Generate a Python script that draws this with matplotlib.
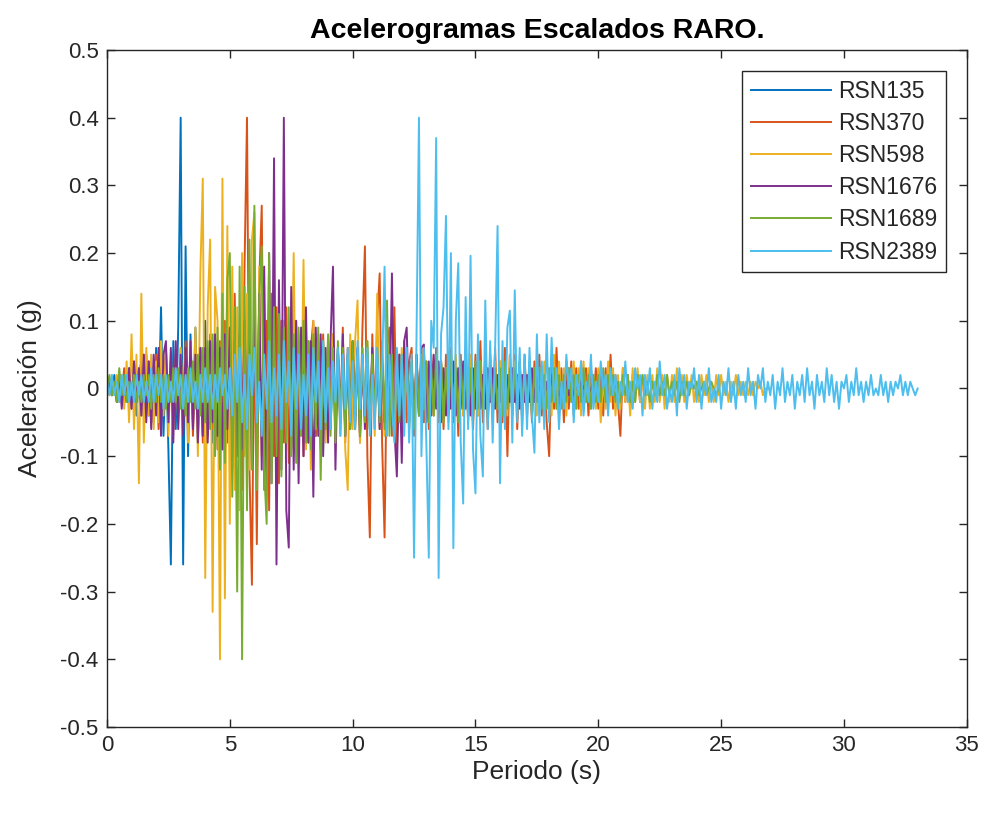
import numpy as np
import matplotlib
matplotlib.use("Agg")
import matplotlib.pyplot as plt
from matplotlib.ticker import FuncFormatter

plt.rcParams['font.family'] = ['Liberation Sans', 'DejaVu Sans']
plt.rcParams['axes.unicode_minus'] = False

# ===== datos (aceleración en g, paso 0.1 s) =====
dt = 0.1
nombres = ["RSN135", "RSN370", "RSN598", "RSN1676", "RSN1689", "RSN2389"]

rsn135 = [
    0.00, 0.01, -0.01, 0.02, -0.01, 0.01, -0.02, 0.02, -0.01, 0.03,
    -0.02, 0.03, -0.04, 0.02, 0.04, -0.03, 0.05, -0.04, 0.03, -0.05,
    0.06, -0.04, 0.12, -0.07, 0.05, -0.09, -0.26, 0.07, -0.06, 0.09,
    0.40, -0.26, 0.21, -0.10, 0.08, -0.05, 0.09, -0.08, 0.06, -0.07,
    0.10, -0.06, 0.05, -0.08, 0.07, -0.04, 0.06, -0.09, 0.05, -0.06,
    0.07, -0.05, 0.09, -0.07, 0.04, -0.10, 0.08, -0.06, 0.07, -0.08,
    0.09, -0.10, 0.06, -0.05, 0.11, -0.08, 0.07, -0.06, 0.05, -0.09,
    0.06, -0.07, 0.08, -0.05, 0.04, -0.06, 0.07, -0.08, 0.05, -0.04,
    0.06, -0.05, 0.07, -0.06, 0.04, -0.07, 0.05, -0.04, 0.06, -0.05,
    0.04, -0.06, 0.05, -0.04, 0.06, -0.05, 0.03, -0.05, 0.04, -0.03,
    0.05, -0.04, 0.06, -0.05, 0.03, -0.04, 0.05, -0.06, 0.04, -0.03,
    0.04, -0.05, 0.03, -0.04, 0.05, -0.03, 0.04, -0.05, 0.03, -0.04,
    0.05, -0.03, 0.04, -0.04, 0.03, -0.05, 0.04, -0.03, 0.02, -0.04,
    0.03, -0.04, 0.04, -0.02, 0.03, -0.03, 0.04, -0.03, 0.02, -0.03,
    0.03, -0.02, 0.04, -0.03, 0.02, -0.03, 0.03, -0.02, 0.03, -0.02,
    0.02, -0.03, 0.03, -0.02, 0.02, -0.03, 0.02, -0.02, 0.03, -0.02,
    0.02, -0.02, 0.03, -0.01, 0.02, -0.02, 0.02, -0.03, 0.01, -0.02,
    0.02, -0.01, 0.02, -0.02, 0.01, -0.02, 0.02, -0.01, 0.02, -0.01,
    0.01, -0.02, 0.02, -0.01, 0.01, -0.01, 0.02, -0.01, 0.03, 0.02,
    0.01, -0.01, 0.01, -0.01, 0.01, 0.00, 0.01, -0.01, 0.00, 0.00,
]

rsn370 = [
    0.00, 0.01, -0.01, 0.01, -0.02, 0.02, -0.01, 0.03, -0.02, 0.02,
    -0.03, 0.04, -0.02, 0.03, -0.04, 0.05, -0.03, 0.04, -0.05, 0.03,
    0.05, -0.06, 0.04, -0.03, 0.06, -0.05, 0.04, -0.06, 0.05, -0.04,
    0.06, -0.05, 0.07, -0.06, 0.05, -0.07, 0.04, -0.05, 0.06, -0.08,
    0.05, -0.07, 0.08, -0.06, 0.05, -0.09, 0.07, -0.05, 0.10, -0.08,
    0.06, -0.12, 0.14, -0.10, 0.08, -0.15, 0.18, 0.40, -0.12, -0.29,
    0.12, -0.23, 0.16, 0.27, -0.15, 0.10, -0.18, 0.14, -0.10, 0.12,
    -0.14, 0.10, -0.08, 0.12, -0.11, 0.07, -0.09, 0.10, -0.06, 0.08,
    -0.10, 0.07, -0.08, 0.06, 0.10, -0.07, 0.05, -0.09, 0.08, -0.06,
    0.07, -0.05, 0.08, -0.07, 0.05, -0.06, 0.09, -0.08, 0.06, -0.05,
    0.07, -0.06, 0.05, -0.08, 0.09, 0.21, -0.10, -0.22, 0.08, -0.06,
    0.10, 0.17, -0.08, -0.22, 0.06, 0.09, -0.07, 0.12, -0.09, 0.05,
    -0.06, 0.07, -0.05, 0.04, 0.06, -0.07, 0.05, -0.04, 0.06, -0.05,
    0.04, -0.06, 0.05, -0.04, 0.06, -0.05, 0.04, -0.06, 0.05, -0.04,
    0.06, -0.05, 0.04, -0.07, 0.05, -0.04, 0.06, -0.05, 0.04, -0.06,
    0.05, -0.04, 0.07, -0.05, 0.04, -0.06, 0.05, -0.04, 0.06, -0.05,
    0.04, -0.05, 0.06, -0.10, 0.05, -0.04, 0.05, -0.06, 0.04, -0.05,
    0.05, -0.04, 0.03, -0.05, 0.04, -0.03, 0.05, -0.04, 0.03, -0.05,
    -0.10, 0.04, -0.03, 0.06, -0.04, 0.03, -0.05, 0.04, -0.03, 0.04,
    -0.04, 0.03, -0.03, 0.04, -0.02, 0.03, -0.04, 0.03, -0.02, 0.03,
    -0.03, 0.02, -0.04, 0.03, -0.02, 0.05, -0.03, 0.02, -0.02, -0.07,
    0.03, -0.02, 0.02, -0.03, 0.02, -0.01, 0.02, -0.02, 0.01, 0.00,
]

rsn598 = [
    0.00, -0.01, 0.01, -0.01, 0.02, -0.02, 0.01, -0.03, 0.04, -0.05,
    0.08, -0.06, 0.05, -0.14, 0.14, -0.08, 0.06, -0.04, 0.05, -0.06,
    0.04, -0.05, 0.07, -0.04, 0.06, -0.07, 0.05, -0.06, 0.04, -0.05,
    0.06, -0.04, 0.05, -0.08, 0.07, -0.05, 0.09, -0.10, 0.17, 0.31,
    -0.28, 0.12, 0.22, -0.33, 0.15, 0.10, -0.40, 0.31, -0.31, 0.24,
    -0.20, 0.18, -0.15, 0.12, -0.18, 0.20, -0.10, 0.14, -0.12, 0.22,
    0.26, -0.14, 0.18, -0.10, 0.15, -0.12, 0.10, -0.08, 0.12, -0.10,
    0.09, -0.07, 0.10, -0.09, 0.08, -0.06, 0.20, -0.10, 0.08, -0.07,
    0.19, -0.09, 0.07, -0.12, 0.10, -0.06, 0.08, -0.07, 0.06, -0.08,
    0.07, -0.05, 0.08, -0.06, 0.05, -0.07, 0.06, -0.09, -0.15, 0.08,
    -0.06, 0.07, 0.13, -0.08, 0.06, -0.05, 0.07, -0.06, 0.05, -0.07,
    0.14, -0.06, 0.05, -0.07, 0.06, -0.04, 0.05, -0.06, 0.04, -0.05,
    0.06, -0.04, 0.05, -0.06, 0.04, -0.05, 0.03, -0.04, 0.05, -0.03,
    0.04, -0.05, 0.03, -0.04, 0.05, -0.03, 0.04, -0.04, 0.03, -0.05,
    0.04, -0.03, 0.05, -0.04, 0.03, -0.04, 0.04, -0.03, 0.05, -0.04,
    0.03, -0.04, 0.04, -0.03, 0.05, -0.04, 0.03, -0.05, 0.04, -0.03,
    0.04, -0.03, 0.03, -0.04, 0.05, -0.03, 0.04, -0.03, 0.03, -0.04,
    0.04, -0.03, 0.04, -0.02, 0.03, -0.04, 0.03, -0.02, 0.04, -0.03,
    0.03, -0.04, 0.05, -0.03, 0.04, -0.02, 0.03, -0.04, 0.03, -0.02,
    0.04, -0.03, 0.03, -0.04, 0.04, -0.02, 0.03, -0.03, 0.02, -0.03,
    0.03, -0.05, 0.02, -0.03, 0.04, -0.02, 0.03, -0.04, 0.02, -0.03,
    0.03, -0.02, 0.02, -0.04, 0.03, -0.02, 0.03, -0.02, 0.02, -0.03,
    0.02, -0.03, 0.02, -0.02, 0.03, -0.02, 0.02, -0.03, 0.02, -0.02,
    0.02, -0.02, 0.03, -0.01, 0.02, -0.02, 0.02, -0.01, 0.02, -0.02,
    0.01, -0.02, 0.02, -0.01, 0.02, -0.02, 0.01, -0.02, 0.02, -0.01,
    0.02, -0.01, 0.01, -0.02, 0.01, -0.01, 0.02, -0.01, 0.01, -0.01,
    0.01, -0.01, 0.01, -0.01, 0.01, 0.00, 0.01, -0.01, 0.00, 0.00,
]

rsn1676 = [
    0.00, 0.01, -0.01, 0.01, -0.02, 0.02, -0.03, 0.02, -0.02, 0.03,
    -0.03, 0.04, -0.02, 0.03, -0.04, 0.05, -0.05, 0.04, -0.06, 0.05,
    -0.04, 0.06, -0.07, 0.05, 0.07, -0.05, 0.06, -0.08, 0.07, -0.06,
    0.05, -0.07, 0.06, -0.05, 0.07, -0.06, 0.05, -0.08, 0.06, -0.07,
    0.06, -0.08, 0.07, -0.05, 0.08, -0.07, 0.06, -0.09, 0.08, -0.06,
    0.09, -0.08, 0.07, -0.10, 0.08, -0.09, 0.10, -0.07, 0.09, -0.11,
    0.12, -0.10, 0.14, -0.12, 0.18, -0.15, 0.20, -0.14, 0.34, -0.26,
    0.16, -0.12, 0.40, -0.18, -0.235, 0.15, -0.12, 0.10, -0.14, 0.09,
    -0.10, 0.12, -0.08, 0.07, -0.16, 0.09, -0.07, 0.08, -0.10, 0.06,
    -0.08, 0.07, 0.18, -0.12, 0.06, -0.05, 0.08, -0.07, 0.05, -0.06,
    0.07, -0.05, 0.06, -0.07, 0.05, -0.06, 0.04, -0.05, 0.06, -0.04,
    0.05, -0.06, 0.04, -0.05, 0.06, -0.04, 0.17, -0.06, -0.13, 0.05,
    -0.11, 0.07, 0.09, -0.05, 0.04, -0.06, 0.05, -0.04, 0.06, 0.065,
    -0.05, 0.04, -0.04, 0.05, -0.03, 0.04, -0.05, 0.03, -0.04, 0.04,
    -0.03, 0.04, -0.04, 0.03, -0.03, 0.04, -0.03, 0.03, -0.04, 0.03,
    -0.03, 0.04, -0.03, 0.02, -0.03, 0.03, -0.02, 0.03, -0.03, 0.02,
    -0.02, 0.03, -0.03, 0.02, -0.02, 0.03, -0.02, 0.02, -0.03, 0.02,
    -0.02, 0.02, -0.02, 0.03, -0.02, 0.02, -0.01, 0.02, -0.02, 0.01,
    -0.02, 0.02, -0.01, 0.02, -0.01, 0.01, -0.02, 0.01, -0.01, 0.02,
    -0.01, 0.01, -0.01, 0.01, 0.00, 0.01, -0.01, 0.00, 0.01, 0.00,
]

rsn1689 = [
    0.00, 0.02, -0.01, 0.01, -0.02, 0.03, -0.01, 0.02, -0.02, 0.01,
    -0.01, 0.02, -0.02, 0.01, -0.02, 0.02, -0.01, 0.02, -0.03, 0.02,
    -0.02, 0.03, -0.02, 0.02, -0.03, 0.02, -0.02, 0.03, -0.02, 0.03,
    -0.03, 0.02, -0.04, 0.03, -0.02, 0.04, -0.03, 0.05, -0.04, 0.06,
    -0.05, 0.07, -0.06, 0.08, -0.10, 0.09, -0.12, 0.14, -0.11, 0.16,
    0.20, -0.16, 0.12, -0.30, 0.18, -0.40, 0.15, -0.18, 0.22, -0.12,
    0.27, -0.15, 0.14, 0.21, -0.12, -0.20, 0.20, -0.14, 0.12, -0.10,
    0.11, -0.13, 0.09, -0.08, 0.12, -0.10, 0.08, -0.11, 0.09, -0.07,
    0.10, -0.08, 0.07, -0.09, 0.08, -0.06, 0.09, -0.135, 0.07, -0.06,
    0.08, -0.07, 0.06, -0.08, 0.07, -0.05, 0.06, -0.07, 0.05, -0.06,
    0.07, -0.06, 0.05, -0.07, 0.06, -0.05, 0.07, -0.06, 0.05, -0.04,
    0.06, -0.05, 0.07, -0.06, 0.13, -0.07, 0.05, -0.06, 0.04, -0.05,
    0.05, -0.04, 0.06, -0.05, 0.04, -0.06, 0.05, -0.04, 0.05, -0.03,
    0.04, -0.05, 0.03, -0.04, 0.05, -0.03, 0.04, -0.05, 0.03, -0.04,
    0.05, -0.04, 0.03, -0.05, 0.04, -0.03, 0.04, -0.04, 0.03, -0.05,
    0.04, -0.03, 0.04, -0.03, 0.05, -0.04, 0.03, -0.04, 0.03, -0.03,
    0.03, -0.04, 0.04, -0.03, 0.03, -0.04, 0.03, -0.02, 0.04, -0.03,
    0.03, -0.03, 0.02, -0.04, 0.03, -0.02, 0.03, -0.03, 0.02, -0.03,
    0.03, -0.02, 0.03, -0.03, 0.02, -0.03, 0.02, -0.02, 0.03, -0.02,
    0.02, -0.03, 0.02, -0.02, 0.03, -0.02, 0.02, -0.03, 0.02, -0.02,
    0.02, -0.02, 0.03, -0.02, 0.02, -0.01, 0.02, -0.02, 0.01, -0.02,
    0.02, -0.01, 0.02, -0.02, 0.01, -0.02, 0.02, -0.01, 0.02, -0.01,
    0.01, -0.02, 0.01, -0.01, 0.02, -0.01, 0.01, -0.01, 0.02, -0.01,
    0.01, -0.01, 0.01, -0.02, 0.01, -0.01, 0.01, -0.01, 0.01, 0.00,
    0.01, -0.01, 0.00, 0.01, -0.01, 0.00, 0.01, 0.00, -0.01, 0.00,
]

rsn2389 = [
    0.01, -0.01, 0.02, -0.01, 0.01, -0.02, 0.02, -0.01, 0.02, -0.02,
    0.01, -0.02, 0.02, -0.01, 0.02, -0.02, 0.01, -0.02, 0.03, -0.02,
    0.02, -0.01, 0.02, -0.03, 0.02, -0.02, 0.01, -0.02, 0.03, -0.01,
    0.02, -0.03, 0.02, -0.02, 0.03, -0.02, 0.01, -0.03, 0.02, -0.02,
    0.03, -0.02, 0.02, -0.03, 0.02, -0.02, 0.03, -0.01, 0.02, -0.03,
    0.03, -0.04, 0.05, -0.02, 0.06, -0.05, 0.02, -0.06, 0.05, -0.01,
    0.06, -0.05, 0.01, -0.07, 0.05, -0.03, 0.07, -0.05, 0.03, -0.04,
    0.05, -0.06, 0.07, -0.02, 0.04, -0.07, 0.06, -0.03, 0.05, -0.06,
    0.02, -0.04, 0.05, -0.07, 0.06, -0.02, 0.04, -0.06, 0.07, -0.05,
    0.03, -0.06, 0.04, -0.02, 0.06, -0.07, 0.05, -0.03, 0.06, -0.05,
    0.04, -0.06, 0.07, -0.03, 0.05, -0.04, 0.06, -0.07, 0.02, -0.06,
    0.06, -0.04, 0.03, 0.18, -0.07, 0.05, -0.03, -0.08, 0.06, -0.04,
    0.05, -0.07, 0.06, -0.08, 0.05, -0.25, 0.08, 0.40, -0.10, 0.06,
    -0.08, -0.25, 0.10, 0.06, 0.37, -0.28, 0.08, 0.12, 0.255, -0.06,
    0.20, -0.236, 0.10, 0.185, -0.08, -0.17, 0.135, -0.06, 0.196, -0.09,
    -0.155, 0.08, -0.07, -0.13, 0.13, -0.06, 0.07, -0.08, 0.06, 0.24,
    -0.14, 0.07, -0.06, 0.09, 0.115, -0.08, 0.145, -0.05, 0.06, -0.07,
    0.05, -0.06, 0.06, -0.04, -0.095, 0.08, -0.05, 0.04, -0.06, 0.08,
    -0.05, 0.075, -0.02, 0.03, -0.06, 0.01, -0.03, 0.05, 0.00, 0.03,
    -0.05, 0.02, -0.01, 0.04, -0.04, 0.01, -0.02, 0.05, -0.03, 0.01,
    -0.02, 0.04, 0.00, 0.02, -0.04, 0.03, -0.01, 0.02, -0.03, 0.01,
    -0.01, 0.04, -0.02, 0.01, -0.03, 0.03, 0.00, 0.02, -0.04, 0.02,
    -0.01, 0.03, -0.03, 0.01, -0.02, 0.04, -0.01, 0.02, -0.03, 0.00,
    -0.02, 0.02, -0.04, 0.03, -0.01, 0.02, -0.03, 0.01, 0.00, 0.03,
    -0.02, 0.02, -0.03, 0.01, -0.01, 0.03, -0.02, 0.00, -0.02, 0.02,
    -0.03, 0.01, -0.01, 0.03, -0.02, 0.01, -0.03, 0.02, -0.01, 0.01,
    -0.02, 0.03, -0.01, 0.01, -0.03, 0.02, 0.00, 0.03, -0.02, 0.01,
    -0.01, 0.02, -0.03, 0.01, -0.01, 0.03, -0.02, 0.01, -0.01, 0.02,
    -0.03, 0.01, -0.01, 0.02, -0.02, 0.03, -0.01, 0.01, -0.03, 0.02,
    -0.01, 0.01, -0.02, 0.03, -0.01, 0.02, -0.02, 0.01, -0.03, 0.01,
    0.00, 0.02, -0.02, 0.01, -0.01, 0.03, -0.01, 0.01, -0.02, 0.01,
    -0.01, 0.02, -0.01, 0.00, -0.01, 0.02, -0.01, 0.01, -0.02, 0.01,
    -0.01, 0.01, 0.00, 0.02, -0.01, 0.01, -0.01, 0.01, 0.00, -0.01,
    0.00,
]

registros = [rsn135, rsn370, rsn598, rsn1676, rsn1689, rsn2389]

# colores por defecto de MATLAB
colores = ["#0072BD", "#D95319", "#EDB120", "#7E2F8E", "#77AC30", "#4DBEEE"]
gris = "#262626"

fig = plt.figure(figsize=(9.86, 8.17), dpi=100)
ax = fig.add_axes([0.1085, 0.1102, 0.872, 0.8286])

for nombre, acc, c in zip(nombres, registros, colores):
    t = np.arange(len(acc)) * dt
    ax.plot(t, acc, color=c, linewidth=1.4, label=nombre)

ax.set_xlim(0, 35)
ax.set_ylim(-0.5, 0.5)
ax.set_xticks(np.arange(0, 36, 5))
ax.set_yticks(np.arange(-0.5, 0.51, 0.1))
ax.yaxis.set_major_formatter(FuncFormatter(lambda v, p: f"{round(v, 1) + 0.0:g}"))
ax.tick_params(direction="in", length=6, width=1, top=True, right=True,
               labelsize=16, colors=gris, pad=6)
for s in ax.spines.values():
    s.set_color(gris)
    s.set_linewidth(1)

ax.set_title("Acelerogramas Escalados RARO.", fontsize=20.5, fontweight="bold",
             color="black", pad=9)
ax.set_xlabel("Periodo (s)", fontsize=19, color=gris, labelpad=3)
ax.set_ylabel("Aceleración (g)", fontsize=19, color=gris, labelpad=13)

leg = ax.legend(loc="upper right", fontsize=16.5, handlelength=3.5,
                labelspacing=0.4, borderaxespad=0.92, fancybox=False,
                framealpha=1, handletextpad=0.3, borderpad=0.38)
leg.get_frame().set_edgecolor(gris)
leg.get_frame().set_linewidth(1)
for txt in leg.get_texts():
    txt.set_color(gris)

fig.savefig("out.png", dpi=100)
